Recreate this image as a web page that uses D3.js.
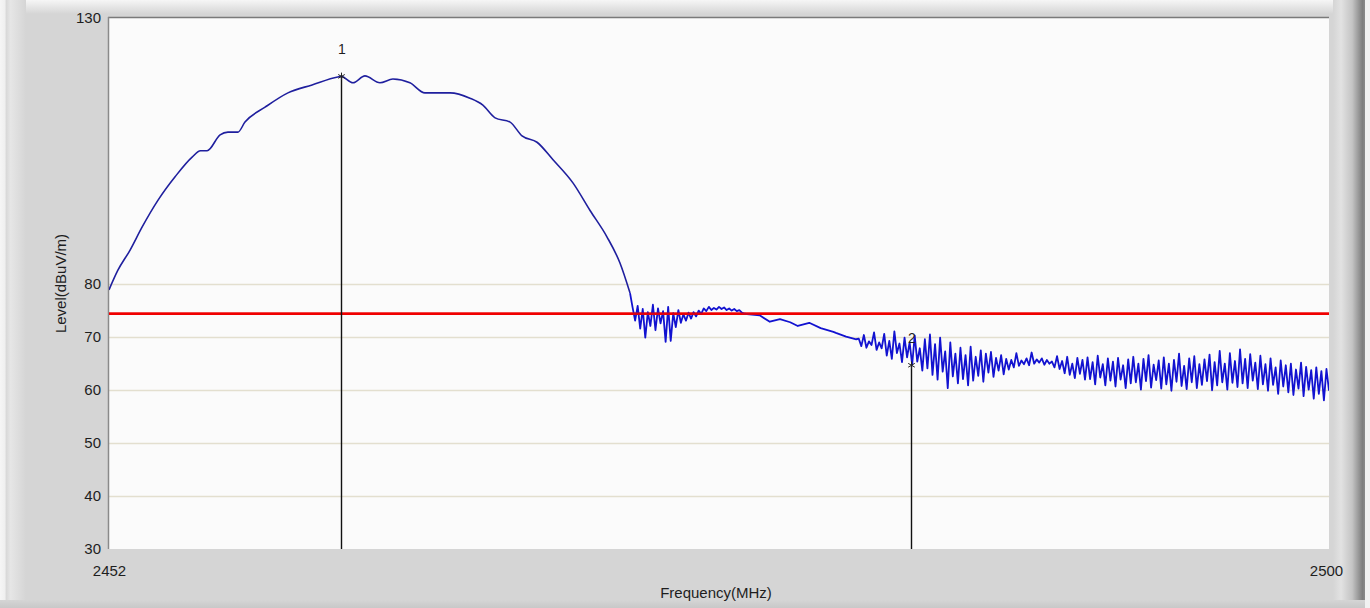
<!DOCTYPE html>
<html>
<head>
<meta charset="utf-8">
<script src="https://cdn.jsdelivr.net/npm/d3@7"></script>
<style>
  html, body { margin: 0; padding: 0; background: #d5d5d5; }
  svg { display: block; }
  text { font-family: "Liberation Sans", Arial, sans-serif; fill: #1e1e1e; }
</style>
</head>
<body>
<svg id="chart" width="1370" height="608"></svg>
<script>
// ---------------- data ----------------
const freqDomain = [2452, 2500];
const levelDomain = [30, 130];
const freqTicks = [2452, 2500];
const levelTicks = [30, 40, 50, 60, 70, 80, 130];
const gridLevels = [40, 50, 60, 70, 80];
const limitLevel = 74.3;

// smooth main lobe: frequency (MHz) / level (dBuV/m)
const lobeFreq = [2452.0, 2452.35, 2452.83, 2453.3, 2453.93, 2454.6, 2455.27, 2455.6, 2455.86, 2456.37,
  2456.68, 2457.07, 2457.35, 2458.14, 2459.04, 2459.99, 2461.0, 2461.13, 2461.6, 2462.07,
  2462.66, 2463.17, 2463.84, 2464.43, 2465.42, 2466.2, 2466.71, 2467.19, 2467.78, 2468.25,
  2468.84, 2469.47, 2470.26, 2470.92, 2471.59, 2472.1, 2472.5];
const lobeLevel = [78.8, 82.5, 86.3, 90.6, 95.7, 100.1, 103.8, 105.0, 105.0, 108.0,
  108.5, 108.5, 110.4, 113.2, 115.9, 117.4, 118.9, 119.0, 117.8, 119.1,
  117.8, 118.5, 117.8, 115.9, 115.9, 114.9, 113.6, 111.2, 110.4, 107.8,
  106.6, 103.3, 98.9, 93.8, 88.8, 83.9, 78.2];

// first noisy band, sampled every 0.1 MHz from 2472.6 MHz
const band1Start = 2472.6;
const band1Step = 0.1;
const band1Level = [75.5, 73.0, 75.8, 71.5, 75.2, 69.8, 74.6, 72.0, 76.0, 71.2,
  75.3, 72.5, 74.8, 69.0, 75.6, 69.2, 74.4, 71.8, 75.0, 72.6,
  74.2, 73.0, 74.5, 73.4, 74.6, 73.8, 74.9, 74.3, 75.3, 74.8,
  75.6, 75.0, 75.4, 75.1, 75.6, 75.2, 75.5, 75.0, 75.3, 74.9,
  75.2, 74.8, 75.0, 74.5, 74.3];

// gentle slope between the bands
const slopeFreq = [2477.6, 2478.0, 2478.4, 2478.8, 2479.1, 2479.55, 2480.0, 2480.5, 2480.6, 2481.0, 2481.4];
const slopeLevel = [74.0, 72.8, 73.3, 72.7, 72.0, 72.6, 71.6, 70.9, 70.7, 70.0, 69.5];

// second noisy band, sampled every 0.1 MHz from 2481.5 MHz to 2500 MHz
const band2Start = 2481.5;
const band2Step = 0.1;
const band2Level = [
  69.6, 68.2, 70.3, 67.9, 69.1, 68.4, 70.8, 67.5, 68.9, 67.8,
  70.5, 66.4, 69.2, 65.8, 71.0, 66.9, 68.7, 65.2, 69.8, 66.1,
  68.9, 64.7, 70.2, 65.3, 67.8, 63.6, 69.5, 64.0, 70.4, 62.8,
  68.6, 61.9, 69.8, 63.4, 67.2, 60.3, 68.9, 62.5, 66.8, 61.2,
  67.9, 62.0, 66.5, 60.8, 68.1, 61.7, 66.2, 62.6, 67.4, 61.5,
  66.8, 63.2, 67.1, 62.4, 66.0, 63.6, 66.5, 62.9, 65.8, 63.8,
  65.6, 64.2, 66.9, 64.5, 65.5, 64.8, 65.9, 64.6, 67.0, 64.9,
  65.7, 65.1, 65.9, 64.7, 65.6, 64.9, 65.3, 64.2, 66.3, 63.9,
  65.4, 63.1, 66.2, 62.8, 64.9, 62.2, 66.0, 63.0, 65.6, 61.9,
  66.1, 62.0, 65.2, 61.0, 66.4, 62.3, 64.8, 60.8, 65.9, 61.7,
  65.3, 60.6, 66.0, 61.9, 64.6, 60.3, 65.7, 61.2, 66.2, 61.4,
  64.9, 60.0, 65.8, 61.6, 66.5, 60.4, 64.7, 61.8, 65.5, 60.2,
  66.1, 61.0, 64.9, 59.8, 65.6, 61.5, 66.8, 60.7, 64.5, 60.1,
  65.9, 61.4, 66.3, 60.3, 64.8, 60.9, 65.7, 61.6, 66.6, 59.9,
  65.2, 60.8, 67.3, 61.4, 64.9, 60.0, 66.9, 61.3, 65.4, 60.5,
  67.6, 61.2, 65.8, 60.3, 66.7, 61.7, 65.1, 60.1, 66.4, 61.0,
  64.8, 59.8, 65.9, 60.9, 64.2, 59.2, 65.5, 60.6, 64.6, 59.5,
  64.9, 59.0, 63.8, 60.2, 65.1, 58.8, 64.3, 60.0, 63.7, 58.3,
  64.2, 59.2, 63.5, 58.0, 63.9, 59.8];

// markers
const markerLabels = ["1", "2"];
const markerFreq = [2461.13, 2483.55];
const markerLevel = [119.0, 64.6];

// ---------------- layout ----------------
const W = 1370, H = 608;
const plot = { left: 109, right: 1329, top: 18, bottom: 549 };

const svg = d3.select("#chart");
const defs = svg.append("defs");

function grad(id, x1, y1, x2, y2, stops) {
  const g = defs.append("linearGradient").attr("id", id)
    .attr("x1", x1).attr("y1", y1).attr("x2", x2).attr("y2", y2);
  stops.forEach(s => g.append("stop").attr("offset", s[0]).attr("stop-color", s[1]));
}
grad("gLeft", 0, 0, 1, 0, [[0, "#f6f6f6"], [0.18, "#f0f0f0"], [0.25, "#d9d9d9"], [0.4, "#e6e6e6"], [1, "#d5d5d5"]]);
grad("gTop", 0, 0, 0, 1, [[0, "#f6f6f6"], [0.3, "#ececec"], [1, "#d5d5d5"]]);
grad("gRight", 0, 0, 1, 0, [[0, "#d5d5d5"], [0.25, "#e2e2e2"], [0.6, "#c4c4c4"], [0.92, "#7e7e7e"], [1, "#8a8a8a"]]);
grad("gBottom", 0, 0, 0, 1, [[0, "#d5d5d5"], [1, "#c8c8c8"]]);

// frame background
svg.append("rect").attr("width", W).attr("height", H).attr("fill", "#d5d5d5");
svg.append("rect").attr("x", 0).attr("y", 0).attr("width", W).attr("height", 14).attr("fill", "url(#gTop)");
svg.append("rect").attr("x", 0).attr("y", 0).attr("width", 26).attr("height", H).attr("fill", "url(#gLeft)");
svg.append("rect").attr("x", 1333).attr("y", 0).attr("width", 32).attr("height", H).attr("fill", "url(#gRight)");
svg.append("rect").attr("x", 1365).attr("y", 0).attr("width", 5).attr("height", H).attr("fill", "#f2f2f2");
svg.append("rect").attr("x", 0).attr("y", 600).attr("width", 1365).attr("height", 8).attr("fill", "url(#gBottom)");

// plot area
svg.append("rect")
  .attr("x", plot.left).attr("y", plot.top)
  .attr("width", plot.right - plot.left).attr("height", plot.bottom - plot.top)
  .attr("fill", "#fbfbfb");

const x = d3.scaleLinear().domain(freqDomain).range([plot.left, plot.right]);
const y = d3.scaleLinear().domain(levelDomain).range([plot.bottom, plot.top]);

// grid lines
svg.append("g").selectAll("line").data(gridLevels).join("line")
  .attr("x1", plot.left).attr("x2", plot.right)
  .attr("y1", d => Math.round(y(d)) + 0.5).attr("y2", d => Math.round(y(d)) + 0.5)
  .attr("stroke", "#e3dfcf").attr("stroke-width", 1.5);

// sunken borders (top & left)
svg.append("line").attr("x1", plot.left - 1).attr("x2", plot.right).attr("y1", plot.top - 0.5).attr("y2", plot.top - 0.5)
  .attr("stroke", "#7a7a7a").attr("stroke-width", 1.5);
svg.append("line").attr("x1", plot.left - 0.5).attr("x2", plot.left - 0.5).attr("y1", plot.top - 1).attr("y2", plot.bottom)
  .attr("stroke", "#8a8a8a").attr("stroke-width", 1.5);

// axes (labels only, no domain line)
const yAxis = d3.axisLeft(y).tickValues(levelTicks).tickSize(0).tickPadding(7).tickFormat(d3.format("d"));
const gy = svg.append("g").attr("transform", `translate(${plot.left - 1},0)`).call(yAxis);
gy.select(".domain").remove();
gy.selectAll("text").attr("font-size", 15).attr("font-family", "Liberation Sans, Arial, sans-serif").attr("fill", "#1e1e1e");

const xAxis = d3.axisBottom(x).tickValues(freqTicks).tickSize(0).tickPadding(16).tickFormat(d3.format("d"));
const gx = svg.append("g").attr("transform", `translate(0,${plot.bottom})`).call(xAxis);
gx.select(".domain").remove();
gx.selectAll("text").attr("font-size", 15).attr("font-family", "Liberation Sans, Arial, sans-serif").attr("fill", "#1e1e1e");
gx.selectAll(".tick").filter(d => d === freqDomain[1]).select("text").attr("dx", -3);

// axis titles
svg.append("text")
  .attr("x", (plot.left + plot.right) / 2 - 3).attr("y", 598)
  .attr("text-anchor", "middle").attr("font-size", 15).text("Frequency(MHz)");
svg.append("text")
  .attr("transform", `translate(66,${(plot.top + plot.bottom) / 2}) rotate(-90)`)
  .attr("text-anchor", "middle").attr("font-size", 15).text("Level(dBuV/m)");

// build the trace: smooth lobe and noisy remainder
const lobe = lobeFreq.map((f, i) => [f, lobeLevel[i]]);
const rest = [lobe[lobe.length - 1]];
band1Level.forEach((v, i) => rest.push([band1Start + i * band1Step, v]));
slopeFreq.forEach((f, i) => rest.push([f, slopeLevel[i]]));
band2Level.forEach((v, i) => rest.push([band2Start + i * band2Step, v]));

const clip = defs.append("clipPath").attr("id", "plotClip");
clip.append("rect").attr("x", plot.left).attr("y", plot.top)
  .attr("width", plot.right - plot.left).attr("height", plot.bottom - plot.top);

const smoothLine = d3.line().x(d => x(d[0])).y(d => y(d[1])).curve(d3.curveMonotoneX);
const rawLine = d3.line().x(d => x(d[0])).y(d => y(d[1]));

// limit line
svg.append("line")
  .attr("x1", plot.left).attr("x2", plot.right)
  .attr("y1", y(limitLevel)).attr("y2", y(limitLevel))
  .attr("stroke", "#f00000").attr("stroke-width", 2.6);

const tg = svg.append("g").attr("clip-path", "url(#plotClip)");
tg.append("path").datum(lobe)
  .attr("fill", "none").attr("stroke", "#1f1f9e").attr("stroke-width", 1.6)
  .attr("stroke-linejoin", "round").attr("d", smoothLine);
tg.append("path").datum(rest)
  .attr("fill", "none").attr("stroke", "#1212d0").attr("stroke-width", 1.8)
  .attr("stroke-linejoin", "round").attr("d", rawLine);

// limit line drawn over the trace, as in the reference
svg.append("line")
  .attr("x1", plot.left).attr("x2", plot.right)
  .attr("y1", y(limitLevel)).attr("y2", y(limitLevel))
  .attr("stroke", "#f00000").attr("stroke-width", 2.6)
  .attr("opacity", 0.85);

// markers
const markers = markerLabels.map((m, i) => ({ label: m, f: markerFreq[i], v: markerLevel[i] }));
const mg = svg.append("g");
mg.selectAll("line").data(markers).join("line")
  .attr("x1", d => Math.round(x(d.f)) + 0.5).attr("x2", d => Math.round(x(d.f)) + 0.5)
  .attr("y1", d => y(d.v)).attr("y2", plot.bottom)
  .attr("stroke", "#111").attr("stroke-width", 1.4);
const asterisk = d3.symbol().type(d3.symbolAsterisk || d3.symbolCross).size(40);
mg.selectAll("path").data(markers).join("path")
  .attr("transform", d => `translate(${Math.round(x(d.f)) + 0.5},${y(d.v)})`)
  .attr("d", asterisk)
  .attr("fill", "none").attr("stroke", "#222").attr("stroke-width", 1);
mg.selectAll("text").data(markers).join("text")
  .attr("x", d => Math.round(x(d.f)) + 1).attr("y", d => y(d.v) - 22)
  .attr("text-anchor", "middle").attr("font-size", 14).text(d => d.label);
</script>
</body>
</html>
